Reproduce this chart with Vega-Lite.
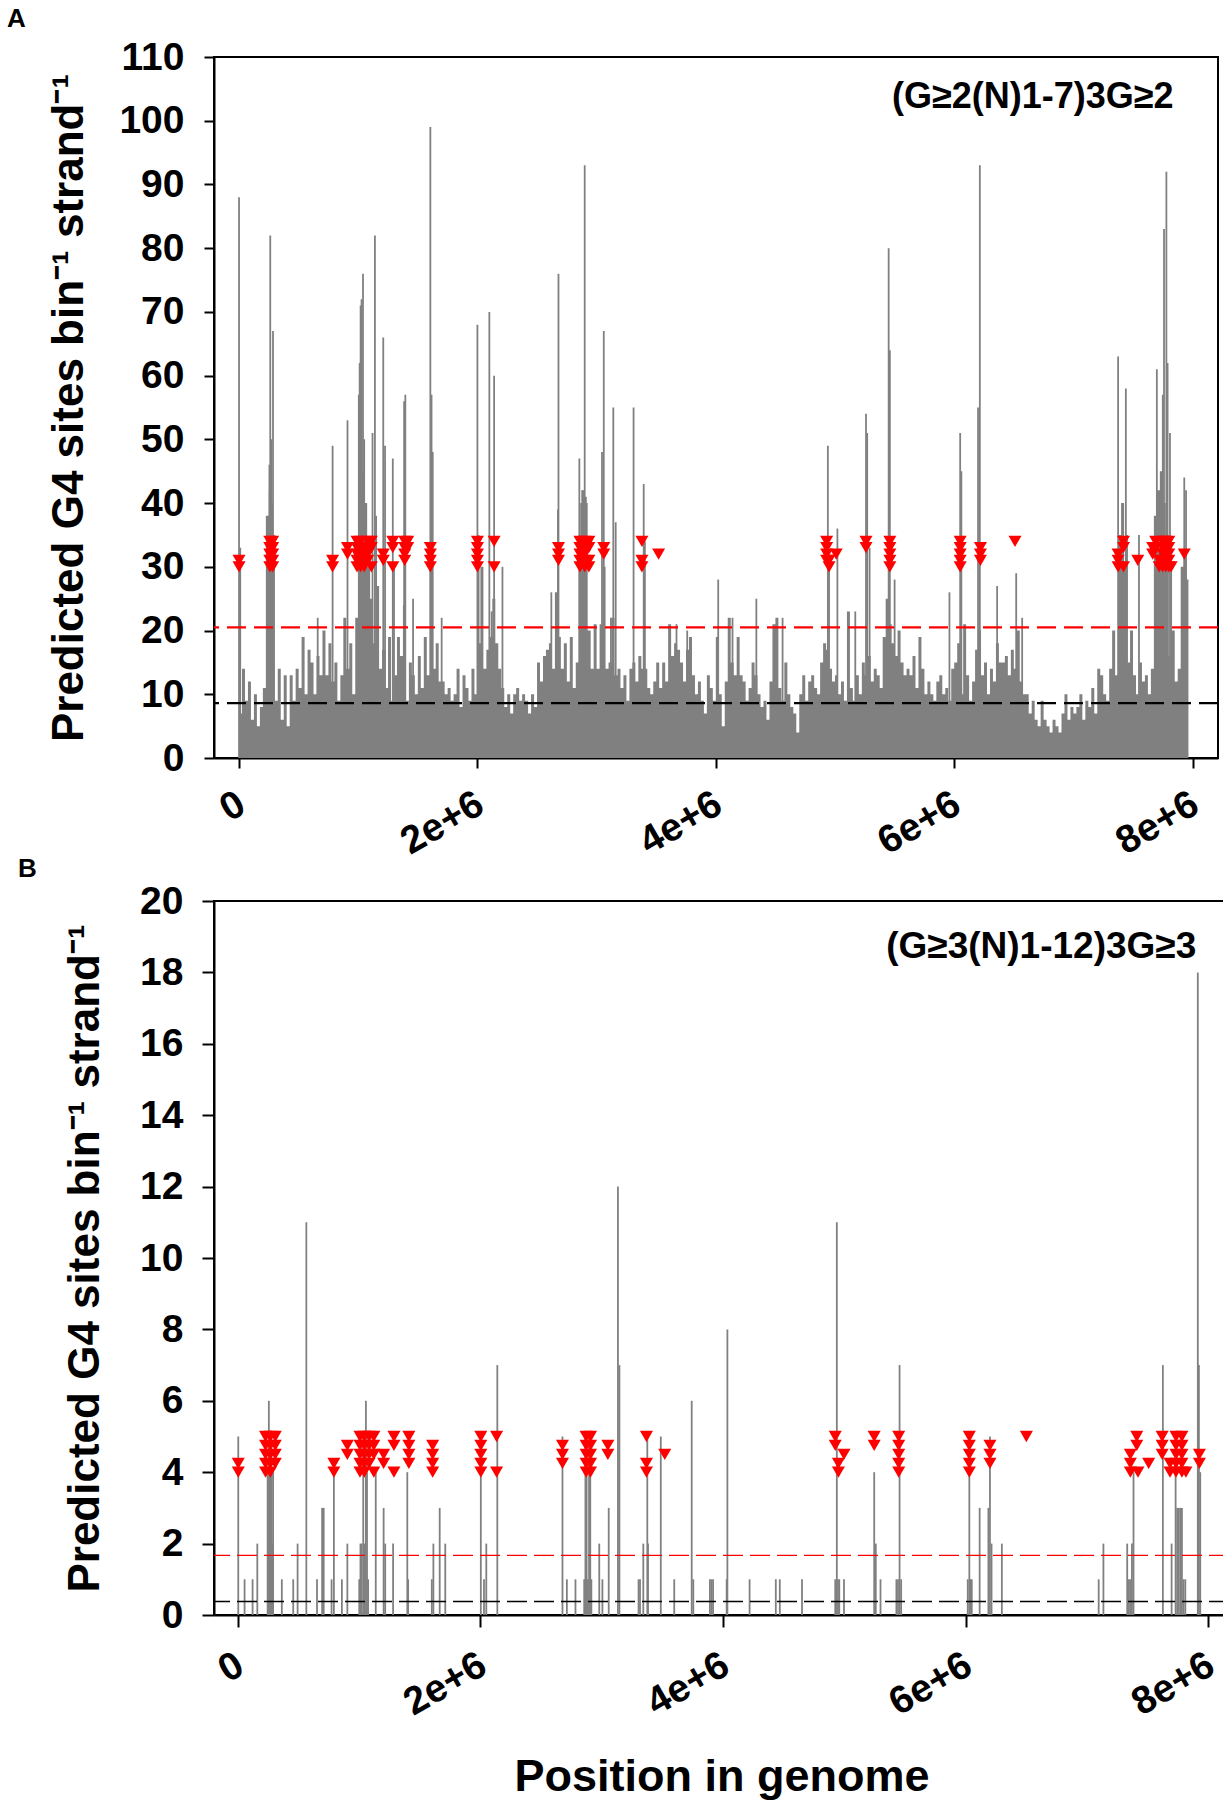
{
  "$schema": "https://vega.github.io/schema/vega-lite/v6.json",
  "background": "white",
  "padding": {"left": 6, "right": 0, "top": 5, "bottom": 0},
  "spacing": -8,
  "datasets": {
    "a_bg": [
      {"p":0,"v":7},{"p":25,"v":14},{"p":50,"v":9},{"p":75,"v":12},
      {"p":100,"v":6},{"p":125,"v":10},{"p":150,"v":5},{"p":175,"v":8},
      {"p":200,"v":11},{"p":225,"v":38},{"p":250,"v":42},{"p":275,"v":30},
      {"p":300,"v":9},{"p":325,"v":14},{"p":350,"v":6},{"p":375,"v":13},
      {"p":400,"v":5},{"p":425,"v":13},{"p":450,"v":9},{"p":475,"v":14},
      {"p":500,"v":11},{"p":525,"v":19},{"p":550,"v":10},{"p":575,"v":17},
      {"p":600,"v":15},{"p":625,"v":10},{"p":650,"v":16},{"p":675,"v":13},
      {"p":700,"v":20},{"p":725,"v":13},{"p":750,"v":18},{"p":775,"v":12},
      {"p":800,"v":15},{"p":825,"v":9},{"p":850,"v":13},{"p":875,"v":22},
      {"p":900,"v":14},{"p":925,"v":18},{"p":950,"v":10},{"p":975,"v":22},
      {"p":1000,"v":35},{"p":1025,"v":45},{"p":1050,"v":40},{"p":1075,"v":30},
      {"p":1100,"v":25},{"p":1125,"v":18},{"p":1150,"v":27},{"p":1175,"v":14},
      {"p":1200,"v":17},{"p":1225,"v":11},{"p":1250,"v":19},{"p":1275,"v":9},
      {"p":1300,"v":13},{"p":1325,"v":19},{"p":1350,"v":16},{"p":1375,"v":24},
      {"p":1400,"v":9},{"p":1425,"v":15},{"p":1450,"v":13},{"p":1475,"v":10},
      {"p":1500,"v":16},{"p":1525,"v":11},{"p":1550,"v":19},{"p":1575,"v":13},
      {"p":1600,"v":30},{"p":1625,"v":14},{"p":1650,"v":18},{"p":1675,"v":12},
      {"p":1700,"v":12},{"p":1725,"v":10},{"p":1750,"v":11},{"p":1775,"v":9},
      {"p":1800,"v":10},{"p":1825,"v":14},{"p":1850,"v":8},{"p":1875,"v":13},
      {"p":1900,"v":11},{"p":1925,"v":9},{"p":1950,"v":14},{"p":1975,"v":10},
      {"p":2000,"v":18},{"p":2025,"v":30},{"p":2050,"v":14},{"p":2075,"v":17},
      {"p":2100,"v":19},{"p":2125,"v":25},{"p":2150,"v":18},{"p":2175,"v":14},
      {"p":2200,"v":11},{"p":2225,"v":8},{"p":2250,"v":10},{"p":2275,"v":7},
      {"p":2300,"v":10},{"p":2325,"v":11},{"p":2350,"v":9},{"p":2375,"v":10},
      {"p":2400,"v":9},{"p":2425,"v":7},{"p":2450,"v":10},{"p":2475,"v":8},
      {"p":2500,"v":15},{"p":2525,"v":12},{"p":2550,"v":16},{"p":2575,"v":17},
      {"p":2600,"v":18},{"p":2625,"v":14},{"p":2650,"v":26},{"p":2675,"v":19},
      {"p":2700,"v":14},{"p":2725,"v":18},{"p":2750,"v":12},{"p":2775,"v":19},
      {"p":2800,"v":11},{"p":2825,"v":15},{"p":2850,"v":35},{"p":2875,"v":42},
      {"p":2900,"v":40},{"p":2925,"v":20},{"p":2950,"v":14},{"p":2975,"v":21},
      {"p":3000,"v":14},{"p":3025,"v":21},{"p":3050,"v":30},{"p":3075,"v":14},
      {"p":3100,"v":15},{"p":3125,"v":22},{"p":3150,"v":13},{"p":3175,"v":14},
      {"p":3200,"v":11},{"p":3225,"v":13},{"p":3250,"v":9},{"p":3275,"v":14},
      {"p":3300,"v":15},{"p":3325,"v":12},{"p":3350,"v":16},{"p":3375,"v":14},
      {"p":3400,"v":14},{"p":3425,"v":11},{"p":3450,"v":10},{"p":3475,"v":12},
      {"p":3500,"v":15},{"p":3525,"v":11},{"p":3550,"v":15},{"p":3575,"v":12},
      {"p":3600,"v":21},{"p":3625,"v":16},{"p":3650,"v":18},{"p":3675,"v":17},
      {"p":3700,"v":15},{"p":3725,"v":12},{"p":3750,"v":17},{"p":3775,"v":19},
      {"p":3800,"v":13},{"p":3825,"v":10},{"p":3850,"v":12},{"p":3875,"v":9},
      {"p":3900,"v":7},{"p":3925,"v":13},{"p":3950,"v":11},{"p":3975,"v":9},
      {"p":4000,"v":19},{"p":4025,"v":10},{"p":4050,"v":5},{"p":4075,"v":12},
      {"p":4100,"v":22},{"p":4125,"v":15},{"p":4150,"v":13},{"p":4175,"v":19},
      {"p":4200,"v":13},{"p":4225,"v":12},{"p":4250,"v":9},{"p":4275,"v":11},
      {"p":4300,"v":15},{"p":4325,"v":13},{"p":4350,"v":10},{"p":4375,"v":8},
      {"p":4400,"v":9},{"p":4425,"v":6},{"p":4450,"v":12},{"p":4475,"v":21},
      {"p":4500,"v":22},{"p":4525,"v":11},{"p":4550,"v":9},{"p":4575,"v":15},
      {"p":4600,"v":10},{"p":4625,"v":8},{"p":4650,"v":7},{"p":4675,"v":4},
      {"p":4700,"v":10},{"p":4725,"v":13},{"p":4750,"v":9},{"p":4775,"v":12},
      {"p":4800,"v":13},{"p":4825,"v":11},{"p":4850,"v":10},{"p":4875,"v":15},
      {"p":4900,"v":18},{"p":4925,"v":17},{"p":4950,"v":14},{"p":4975,"v":12},
      {"p":5000,"v":13},{"p":5025,"v":10},{"p":5050,"v":12},{"p":5075,"v":9},
      {"p":5100,"v":23},{"p":5125,"v":11},{"p":5150,"v":9},{"p":5175,"v":13},
      {"p":5200,"v":10},{"p":5225,"v":15},{"p":5250,"v":13},{"p":5275,"v":16},
      {"p":5300,"v":12},{"p":5325,"v":14},{"p":5350,"v":13},{"p":5375,"v":11},
      {"p":5400,"v":19},{"p":5425,"v":25},{"p":5450,"v":21},{"p":5475,"v":18},
      {"p":5500,"v":16},{"p":5525,"v":20},{"p":5550,"v":15},{"p":5575,"v":13},
      {"p":5600,"v":14},{"p":5625,"v":13},{"p":5650,"v":16},{"p":5675,"v":11},
      {"p":5700,"v":19},{"p":5725,"v":14},{"p":5750,"v":10},{"p":5775,"v":12},
      {"p":5800,"v":10},{"p":5825,"v":9},{"p":5850,"v":12},{"p":5875,"v":13},
      {"p":5900,"v":10},{"p":5925,"v":11},{"p":5950,"v":9},{"p":5975,"v":14},
      {"p":6000,"v":15},{"p":6025,"v":18},{"p":6050,"v":10},{"p":6075,"v":21},
      {"p":6100,"v":13},{"p":6125,"v":9},{"p":6150,"v":12},{"p":6175,"v":17},
      {"p":6200,"v":20},{"p":6225,"v":13},{"p":6250,"v":15},{"p":6275,"v":10},
      {"p":6300,"v":14},{"p":6325,"v":12},{"p":6350,"v":18},{"p":6375,"v":15},
      {"p":6400,"v":15},{"p":6425,"v":16},{"p":6450,"v":13},{"p":6475,"v":17},
      {"p":6500,"v":14},{"p":6525,"v":20},{"p":6550,"v":12},{"p":6575,"v":10},
      {"p":6600,"v":10},{"p":6625,"v":7},{"p":6650,"v":9},{"p":6675,"v":6},
      {"p":6700,"v":5},{"p":6725,"v":9},{"p":6750,"v":6},{"p":6775,"v":5},
      {"p":6800,"v":4},{"p":6825,"v":6},{"p":6850,"v":5},{"p":6875,"v":4},
      {"p":6900,"v":7},{"p":6925,"v":10},{"p":6950,"v":6},{"p":6975,"v":8},
      {"p":7000,"v":7},{"p":7025,"v":8},{"p":7050,"v":10},{"p":7075,"v":6},
      {"p":7100,"v":9},{"p":7125,"v":8},{"p":7150,"v":11},{"p":7175,"v":7},
      {"p":7200,"v":14},{"p":7225,"v":13},{"p":7250,"v":10},{"p":7275,"v":9},
      {"p":7300,"v":14},{"p":7325,"v":20},{"p":7350,"v":13},{"p":7375,"v":35},
      {"p":7400,"v":40},{"p":7425,"v":30},{"p":7450,"v":15},{"p":7475,"v":20},
      {"p":7500,"v":13},{"p":7525,"v":10},{"p":7550,"v":15},{"p":7575,"v":12},
      {"p":7600,"v":13},{"p":7625,"v":10},{"p":7650,"v":14},{"p":7675,"v":38},
      {"p":7700,"v":42},{"p":7725,"v":45},{"p":7750,"v":40},{"p":7775,"v":35},
      {"p":7800,"v":16},{"p":7825,"v":20},{"p":7850,"v":12},{"p":7875,"v":14},
      {"p":7900,"v":30},{"p":7925,"v":32},{"p":7950,"v":28},{"p":7965,"v":28}
    ],
    "a_spk": [
      {"p":0,"v":88},{"p":10,"v":33},{"p":255,"v":46},{"p":262,"v":82},{"p":270,"v":50},{"p":278,"v":40},{"p":285,"v":67},{"p":292,"v":35},
      {"p":660,"v":22},{"p":785,"v":49},{"p":910,"v":53},{"p":1005,"v":57},{"p":1012,"v":62},{"p":1020,"v":71},{"p":1028,"v":72},{"p":1040,"v":76},
      {"p":1050,"v":50},{"p":1120,"v":51},{"p":1140,"v":82},{"p":1150,"v":38},{"p":1210,"v":66},{"p":1225,"v":49},{"p":1290,"v":47},{"p":1300,"v":30},
      {"p":1385,"v":56},{"p":1395,"v":57},{"p":1460,"v":25},{"p":1605,"v":99},{"p":1615,"v":57},{"p":1625,"v":48},{"p":1700,"v":22},
      {"p":2000,"v":68},{"p":2010,"v":35},{"p":2100,"v":70},{"p":2120,"v":23},{"p":2140,"v":60},{"p":2210,"v":30},{"p":2620,"v":26},
      {"p":2675,"v":39},{"p":2680,"v":76},{"p":2855,"v":47},{"p":2870,"v":40},{"p":2880,"v":42},{"p":2900,"v":93},{"p":2910,"v":41},
      {"p":3045,"v":48},{"p":3060,"v":67},{"p":3120,"v":22},{"p":3140,"v":55},{"p":3160,"v":37},{"p":3310,"v":55},{"p":3395,"v":43},{"p":3405,"v":34},
      {"p":3670,"v":21},{"p":3760,"v":20},{"p":4020,"v":28},{"p":4140,"v":22},{"p":4340,"v":25},{"p":4560,"v":22},{"p":4940,"v":49},{"p":4950,"v":30},
      {"p":5020,"v":36},{"p":5170,"v":23},{"p":5260,"v":54},{"p":5270,"v":51},{"p":5290,"v":33},{"p":5450,"v":80},{"p":5460,"v":64},{"p":5500,"v":28},
      {"p":5960,"v":26},{"p":6050,"v":51},{"p":6060,"v":45},{"p":6200,"v":55},{"p":6215,"v":93},{"p":6360,"v":27},{"p":6520,"v":29},{"p":6570,"v":22},
      {"p":7375,"v":63},{"p":7390,"v":35},{"p":7440,"v":58},{"p":7450,"v":35},{"p":7550,"v":35},{"p":7700,"v":61},{"p":7750,"v":57},{"p":7760,"v":83},
      {"p":7780,"v":92},{"p":7790,"v":62},{"p":7810,"v":51},{"p":7820,"v":30},{"p":7930,"v":44},{"p":7945,"v":42}
    ],
    "a_tri": [
      {"p":0,"v":30},{"p":0,"v":31},
      {"p":258,"v":30},{"p":258,"v":31},{"p":258,"v":32},{"p":258,"v":33},{"p":258,"v":34},
      {"p":282,"v":30},{"p":282,"v":31},{"p":282,"v":32},{"p":282,"v":33},{"p":282,"v":34},
      {"p":785,"v":30},{"p":785,"v":31},{"p":910,"v":32},{"p":910,"v":33},
      {"p":990,"v":30},{"p":990,"v":31},{"p":990,"v":32},{"p":990,"v":33},{"p":990,"v":34},
      {"p":1020,"v":30},{"p":1020,"v":31},{"p":1020,"v":32},{"p":1020,"v":33},{"p":1020,"v":34},
      {"p":1050,"v":30},{"p":1050,"v":31},{"p":1050,"v":32},{"p":1050,"v":33},
      {"p":1080,"v":31},{"p":1080,"v":32},{"p":1080,"v":33},{"p":1080,"v":34},
      {"p":1110,"v":30},{"p":1110,"v":33},{"p":1110,"v":34},
      {"p":1210,"v":31},{"p":1210,"v":32},{"p":1290,"v":30},{"p":1290,"v":33},{"p":1290,"v":34},
      {"p":1390,"v":31},{"p":1390,"v":32},{"p":1390,"v":33},{"p":1390,"v":34},{"p":1415,"v":33},{"p":1415,"v":34},
      {"p":1605,"v":30},{"p":1605,"v":31},{"p":1605,"v":32},{"p":1605,"v":33},
      {"p":2000,"v":30},{"p":2000,"v":31},{"p":2000,"v":32},{"p":2000,"v":33},{"p":2000,"v":34},
      {"p":2140,"v":30},{"p":2140,"v":34},{"p":2680,"v":31},{"p":2680,"v":32},{"p":2680,"v":33},
      {"p":2860,"v":30},{"p":2860,"v":31},{"p":2860,"v":32},{"p":2860,"v":33},{"p":2860,"v":34},
      {"p":2900,"v":30},{"p":2900,"v":31},{"p":2900,"v":32},{"p":2900,"v":33},{"p":2900,"v":34},
      {"p":2935,"v":30},{"p":2935,"v":31},{"p":2935,"v":33},{"p":2935,"v":34},
      {"p":3060,"v":32},{"p":3060,"v":33},{"p":3380,"v":30},{"p":3380,"v":31},{"p":3380,"v":34},{"p":3520,"v":32},
      {"p":4930,"v":31},{"p":4930,"v":32},{"p":4930,"v":33},{"p":4930,"v":34},{"p":4950,"v":30},{"p":4950,"v":31},{"p":5010,"v":32},
      {"p":5260,"v":33},{"p":5260,"v":34},
      {"p":5460,"v":30},{"p":5460,"v":31},{"p":5460,"v":32},{"p":5460,"v":33},{"p":5460,"v":34},
      {"p":6050,"v":30},{"p":6050,"v":31},{"p":6050,"v":32},{"p":6050,"v":33},{"p":6050,"v":34},
      {"p":6220,"v":31},{"p":6220,"v":32},{"p":6220,"v":33},{"p":6510,"v":34},
      {"p":7375,"v":30},{"p":7375,"v":31},{"p":7375,"v":32},{"p":7420,"v":30},{"p":7420,"v":33},{"p":7420,"v":34},
      {"p":7540,"v":31},{"p":7665,"v":32},{"p":7665,"v":33},{"p":7690,"v":33},{"p":7690,"v":34},
      {"p":7720,"v":30},{"p":7720,"v":31},
      {"p":7750,"v":30},{"p":7750,"v":31},{"p":7750,"v":32},{"p":7750,"v":33},{"p":7750,"v":34},
      {"p":7775,"v":30},{"p":7775,"v":31},{"p":7775,"v":32},{"p":7775,"v":33},{"p":7775,"v":34},
      {"p":7800,"v":30},{"p":7800,"v":31},{"p":7800,"v":32},{"p":7800,"v":33},{"p":7800,"v":34},
      {"p":7820,"v":30},{"p":7930,"v":32}
    ],
    "b_spk": [
      {"p":5,"v":5},{"p":57,"v":1},{"p":123,"v":1},{"p":162,"v":2},{"p":247,"v":4},{"p":257,"v":6},{"p":265,"v":5},{"p":272,"v":5},{"p":280,"v":4},{"p":286,"v":2},{"p":292,"v":4},
      {"p":364,"v":1},{"p":458,"v":1},{"p":494,"v":2},{"p":566,"v":11},{"p":654,"v":1},{"p":696,"v":3},{"p":709,"v":3},{"p":774,"v":1},{"p":793,"v":4},
      {"p":859,"v":1},{"p":904,"v":2},{"p":1002,"v":1},{"p":1012,"v":2},{"p":1022,"v":2},{"p":1035,"v":5},{"p":1045,"v":2},{"p":1057,"v":6},{"p":1066,"v":4},{"p":1075,"v":1},
      {"p":1138,"v":4},{"p":1203,"v":3},{"p":1216,"v":2},{"p":1281,"v":2},{"p":1398,"v":4},{"p":1405,"v":1},{"p":1600,"v":1},{"p":1613,"v":2},{"p":1665,"v":3},{"p":1711,"v":2},
      {"p":2004,"v":5},{"p":2030,"v":1},{"p":2049,"v":2},{"p":2140,"v":7},{"p":2677,"v":5},{"p":2713,"v":1},{"p":2784,"v":1},
      {"p":2856,"v":1},{"p":2866,"v":5},{"p":2876,"v":4},{"p":2886,"v":1},{"p":2896,"v":5},{"p":2906,"v":4},{"p":2915,"v":1},{"p":2980,"v":2},{"p":3006,"v":1},{"p":3058,"v":3},
      {"p":3134,"v":12},{"p":3146,"v":7},{"p":3304,"v":1},{"p":3316,"v":1},{"p":3343,"v":2},{"p":3376,"v":5},{"p":3382,"v":2},{"p":3487,"v":5},{"p":3598,"v":1},
      {"p":3742,"v":6},{"p":3755,"v":1},{"p":3892,"v":1},{"p":3905,"v":1},{"p":3918,"v":1},{"p":4030,"v":1},{"p":4036,"v":8},{"p":4219,"v":1},{"p":4435,"v":1},{"p":4468,"v":1},
      {"p":4651,"v":1},{"p":4925,"v":1},{"p":4938,"v":11},{"p":4948,"v":1},{"p":4958,"v":1},{"p":4997,"v":1},{"p":5246,"v":4},{"p":5259,"v":2},{"p":5298,"v":1},
      {"p":5429,"v":1},{"p":5442,"v":1},{"p":5455,"v":7},{"p":5468,"v":1},{"p":6017,"v":1},{"p":6030,"v":5},{"p":6040,"v":1},{"p":6050,"v":1},{"p":6115,"v":3},
      {"p":6187,"v":3},{"p":6200,"v":5},{"p":6213,"v":2},{"p":6298,"v":2},{"p":7096,"v":1},{"p":7135,"v":2},
      {"p":7331,"v":2},{"p":7345,"v":1},{"p":7357,"v":1},{"p":7370,"v":2},{"p":7383,"v":4},{"p":7625,"v":7},{"p":7697,"v":2},
      {"p":7730,"v":4},{"p":7743,"v":3},{"p":7756,"v":3},{"p":7769,"v":3},{"p":7782,"v":3},{"p":7795,"v":1},{"p":7810,"v":1},
      {"p":7913,"v":18},{"p":7922,"v":7},{"p":7933,"v":4}
    ],
    "b_tri": [
      {"p":5,"v":4},{"p":5,"v":4.25},
      {"p":230,"v":4},{"p":230,"v":4.25},{"p":230,"v":4.5},{"p":230,"v":4.75},{"p":230,"v":5},
      {"p":270,"v":4},{"p":270,"v":4.25},{"p":270,"v":4.5},{"p":270,"v":4.75},{"p":270,"v":5},
      {"p":310,"v":4.25},{"p":310,"v":4.5},{"p":310,"v":4.75},{"p":310,"v":5},
      {"p":793,"v":4},{"p":793,"v":4.25},{"p":904,"v":4.5},{"p":904,"v":4.75},
      {"p":1008,"v":4},{"p":1008,"v":4.25},{"p":1008,"v":4.5},{"p":1008,"v":4.75},{"p":1008,"v":5},
      {"p":1044,"v":4},{"p":1044,"v":4.25},{"p":1044,"v":4.5},{"p":1044,"v":4.75},{"p":1044,"v":5},
      {"p":1083,"v":4.25},{"p":1083,"v":4.5},{"p":1083,"v":4.75},{"p":1083,"v":5},
      {"p":1122,"v":4},{"p":1122,"v":4.5},{"p":1122,"v":4.75},{"p":1122,"v":5},
      {"p":1203,"v":4.25},{"p":1203,"v":4.5},{"p":1288,"v":4},{"p":1288,"v":4.75},{"p":1288,"v":5},
      {"p":1411,"v":4.25},{"p":1411,"v":4.5},{"p":1411,"v":4.75},{"p":1411,"v":5},
      {"p":1607,"v":4},{"p":1607,"v":4.25},{"p":1607,"v":4.5},{"p":1607,"v":4.75},
      {"p":2004,"v":4},{"p":2004,"v":4.25},{"p":2004,"v":4.5},{"p":2004,"v":4.75},{"p":2004,"v":5},
      {"p":2134,"v":4},{"p":2134,"v":5},{"p":2677,"v":4.25},{"p":2677,"v":4.5},{"p":2677,"v":4.75},
      {"p":2872,"v":4},{"p":2872,"v":4.25},{"p":2872,"v":4.5},{"p":2872,"v":4.75},{"p":2872,"v":5},
      {"p":2908,"v":4},{"p":2908,"v":4.25},{"p":2908,"v":4.5},{"p":2908,"v":4.75},{"p":2908,"v":5},
      {"p":3051,"v":4.5},{"p":3051,"v":4.75},{"p":3369,"v":4},{"p":3369,"v":4.25},{"p":3369,"v":5},{"p":3520,"v":4.5},
      {"p":4925,"v":4.75},{"p":4925,"v":5},{"p":4951,"v":4},{"p":4951,"v":4.25},{"p":4997,"v":4.5},
      {"p":5246,"v":4.75},{"p":5246,"v":5},
      {"p":5448,"v":4},{"p":5448,"v":4.25},{"p":5448,"v":4.5},{"p":5448,"v":4.75},{"p":5448,"v":5},
      {"p":6030,"v":4},{"p":6030,"v":4.25},{"p":6030,"v":4.5},{"p":6030,"v":4.75},{"p":6030,"v":5},
      {"p":6200,"v":4.25},{"p":6200,"v":4.5},{"p":6200,"v":4.75},{"p":6500,"v":5},
      {"p":7357,"v":4},{"p":7357,"v":4.25},{"p":7357,"v":4.5},{"p":7410,"v":4.75},{"p":7410,"v":5},{"p":7420,"v":4},
      {"p":7508,"v":4.25},{"p":7619,"v":4.5},{"p":7619,"v":4.75},{"p":7619,"v":5},{"p":7684,"v":4},{"p":7684,"v":4.25},
      {"p":7733,"v":4},{"p":7733,"v":4.25},{"p":7733,"v":4.5},{"p":7733,"v":4.75},{"p":7733,"v":5},
      {"p":7782,"v":4},{"p":7782,"v":4.25},{"p":7782,"v":4.5},{"p":7782,"v":4.75},{"p":7782,"v":5},
      {"p":7815,"v":4},{"p":7926,"v":4.25},{"p":7926,"v":4.5}
    ]
  },
  "vconcat": [
    {
      "width": 1004,
      "height": 701,
      "title": {"text": "A", "dx": -207, "offset": 6},
      "layer": [
        {
          "data": {"name": "a_bg"},
          "mark": {"type": "area", "interpolate": "step-after", "color": "#808080"},
          "encoding": {
            "x": {
              "field": "p", "type": "quantitative",
              "scale": {"domain": [-210, 8213], "nice": false, "zero": false},
              "axis": {
                "values": [0, 2000, 4000, 6000, 8000],
                "labelExpr": "datum.value == 0 ? '0' : (datum.value / 1000) + 'e+6'",
                "labelAngle": -30, "labelAlign": "right", "labelBaseline": "top",
                "labelOffset": -7, "tickSize": 10, "labelPadding": 16, "title": null
              }
            },
            "y": {
              "field": "v", "type": "quantitative",
              "scale": {"domain": [0, 110], "nice": false},
              "axis": {
                "values": [0, 10, 20, 30, 40, 50, 60, 70, 80, 90, 100, 110],
                "tickSize": 10, "labelPadding": 20,
                "title": "Predicted G4 sites bin⁻¹ strand⁻¹",
                "titleFontSize": 44, "titlePadding": 27
              }
            }
          }
        },
        {
          "data": {"name": "a_spk"},
          "mark": {"type": "rule", "color": "#808080", "strokeWidth": 1.8},
          "encoding": {
            "x": {"field": "p", "type": "quantitative"},
            "y": {"field": "v", "type": "quantitative"},
            "y2": {"datum": 0}
          }
        },
        {
          "data": {"values": [{"level": 20.5}]},
          "mark": {"type": "rule", "color": "#ff0000", "strokeWidth": 2.2, "strokeDash": [19, 8]},
          "encoding": {"y": {"field": "level", "type": "quantitative"}}
        },
        {
          "data": {"values": [{"level": 8.6}]},
          "mark": {"type": "rule", "color": "black", "strokeWidth": 2.2, "strokeDash": [19, 8]},
          "encoding": {"y": {"field": "level", "type": "quantitative"}}
        },
        {
          "data": {"name": "a_tri"},
          "mark": {"type": "point", "shape": "triangle-down", "filled": true, "color": "#ff0000", "opacity": 1, "size": 170},
          "encoding": {
            "x": {"field": "p", "type": "quantitative"},
            "y": {"field": "v", "type": "quantitative"}
          }
        },
        {
          "data": {"values": [{"p": 7840, "v": 102, "t": "(G≥2(N)1-7)3G≥2"}]},
          "mark": {"type": "text", "align": "right", "baseline": "alphabetic", "fontSize": 36, "fontWeight": "bold", "color": "black"},
          "encoding": {
            "x": {"field": "p", "type": "quantitative"},
            "y": {"field": "v", "type": "quantitative"},
            "text": {"field": "t"}
          }
        }
      ]
    },
    {
      "width": 1015,
      "height": 714,
      "title": {"text": "B", "dx": -196, "offset": 0},
      "layer": [
        {
          "data": {"name": "b_spk"},
          "mark": {"type": "rule", "color": "#808080", "strokeWidth": 1.8},
          "encoding": {
            "x": {
              "field": "p", "type": "quantitative",
              "scale": {"domain": [-195, 8170], "nice": false, "zero": false},
              "axis": {
                "values": [0, 2000, 4000, 6000, 8000],
                "labelExpr": "datum.value == 0 ? '0' : (datum.value / 1000) + 'e+6'",
                "labelAngle": -30, "labelAlign": "right", "labelBaseline": "top",
                "labelOffset": -7, "tickSize": 12, "labelPadding": 18,
                "title": "Position in genome", "titleFontSize": 45, "titlePadding": 32
              }
            },
            "y": {
              "field": "v", "type": "quantitative",
              "scale": {"domain": [0, 20], "nice": false},
              "axis": {
                "values": [0, 2, 4, 6, 8, 10, 12, 14, 16, 18, 20],
                "tickSize": 12, "labelPadding": 19,
                "title": "Predicted G4 sites bin⁻¹ strand⁻¹",
                "titleFontSize": 44, "titlePadding": 32
              }
            },
            "y2": {"datum": 0}
          }
        },
        {
          "data": {"values": [{"level": 1.67}]},
          "mark": {"type": "rule", "color": "#ff0000", "strokeWidth": 1.4, "strokeDash": [20, 7]},
          "encoding": {"y": {"field": "level", "type": "quantitative"}}
        },
        {
          "data": {"values": [{"level": 0.38}]},
          "mark": {"type": "rule", "color": "black", "strokeWidth": 1.4, "strokeDash": [20, 7]},
          "encoding": {"y": {"field": "level", "type": "quantitative"}}
        },
        {
          "data": {"name": "b_tri"},
          "mark": {"type": "point", "shape": "triangle-down", "filled": true, "color": "#ff0000", "opacity": 1, "size": 170},
          "encoding": {
            "x": {"field": "p", "type": "quantitative"},
            "y": {"field": "v", "type": "quantitative"}
          }
        },
        {
          "data": {"values": [{"p": 7900, "v": 18.4, "t": "(G≥3(N)1-12)3G≥3"}]},
          "mark": {"type": "text", "align": "right", "baseline": "alphabetic", "fontSize": 37, "fontWeight": "bold", "color": "black"},
          "encoding": {
            "x": {"field": "p", "type": "quantitative"},
            "y": {"field": "v", "type": "quantitative"},
            "text": {"field": "t"}
          }
        }
      ]
    }
  ],
  "config": {
    "font": "Liberation Sans",
    "view": {"stroke": "black", "strokeWidth": 2},
    "axis": {
      "grid": false, "domainColor": "black", "domainWidth": 2,
      "tickColor": "black", "tickWidth": 2,
      "labelColor": "black", "labelFontSize": 39, "labelFontWeight": "bold", "labelFont": "Liberation Sans",
      "labelOverlap": false, "labelFlush": false,
      "titleColor": "black", "titleFont": "Liberation Sans", "titleFontWeight": "bold"
    },
    "title": {"font": "Liberation Sans", "fontWeight": "bold", "fontSize": 26, "color": "black", "anchor": "start", "frame": "group"}
  }
}
